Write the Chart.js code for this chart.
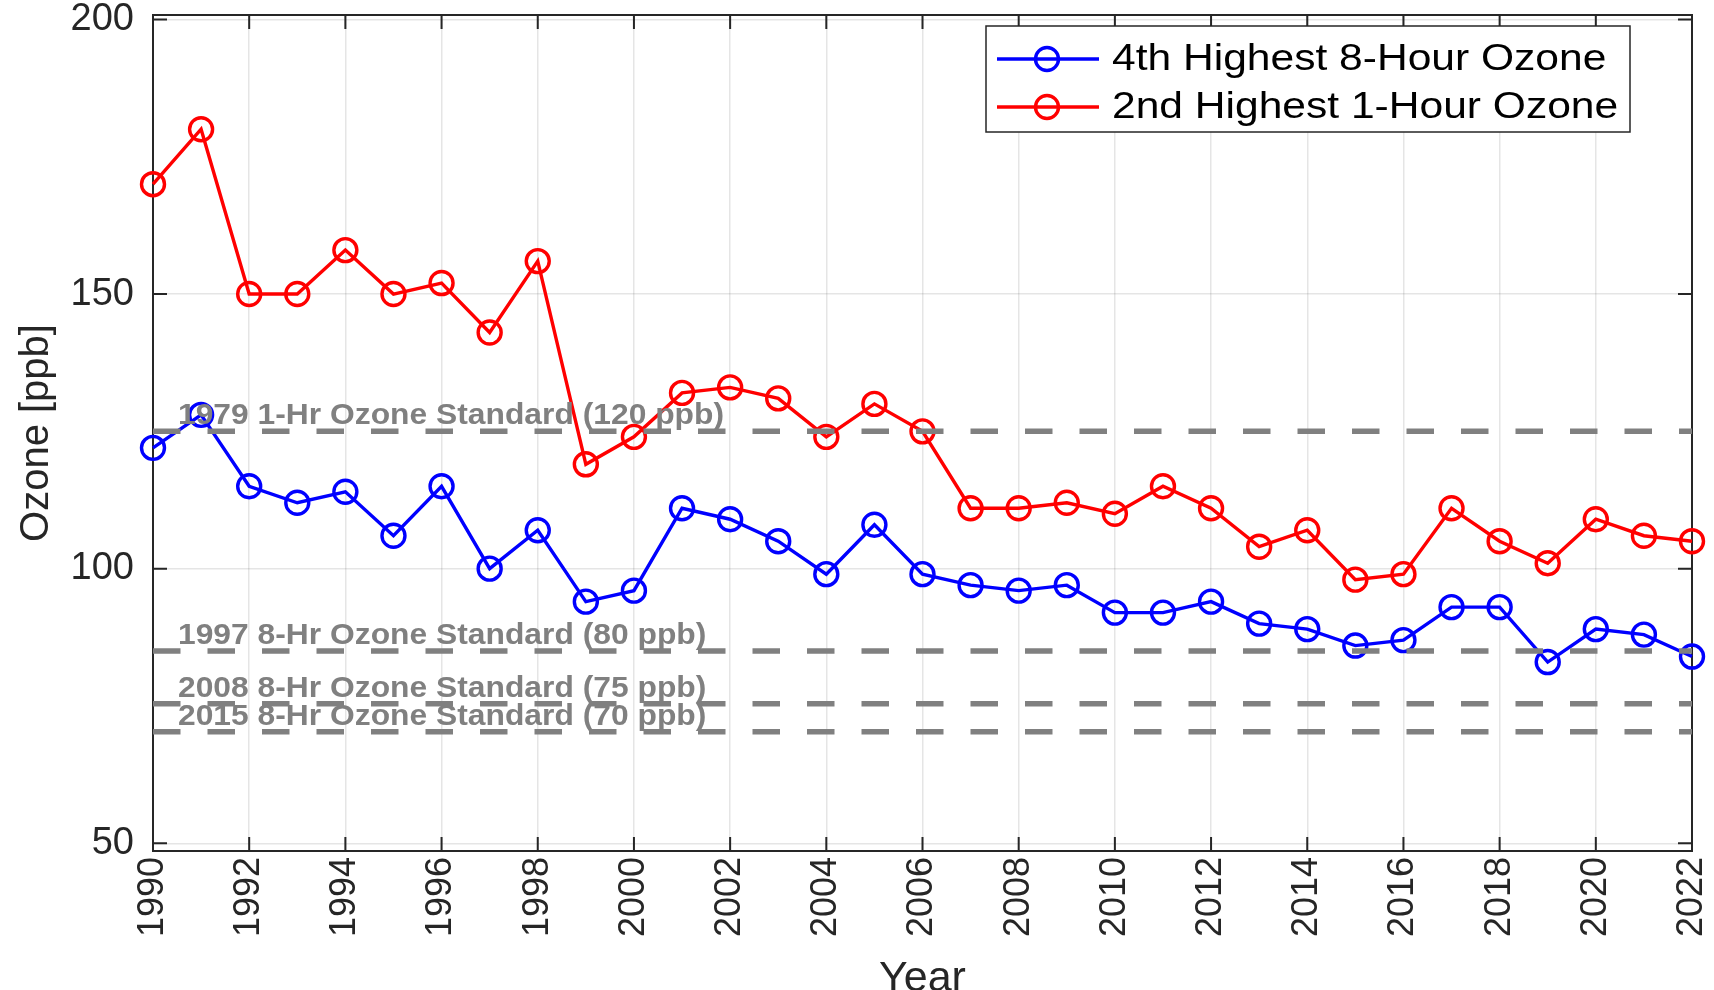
<!DOCTYPE html>
<html>
<head>
<meta charset="utf-8">
<title>Ozone design values</title>
<script src="https://cdn.jsdelivr.net/npm/chart.js@4.4.1/dist/chart.umd.min.js"></script>
<style>
  html, body { margin: 0; padding: 0; background: #fff; }
  #wrap { width: 1714px; height: 990px; position: relative; }
</style>
</head>
<body>
<div id="wrap"><canvas id="ozoneChart"></canvas></div>
<script>
const years = [1990, 1991, 1992, 1993, 1994, 1995, 1996, 1997, 1998, 1999, 2000,
  2001, 2002, 2003, 2004, 2005, 2006, 2007, 2008, 2009, 2010, 2011,
  2012, 2013, 2014, 2015, 2016, 2017, 2018, 2019, 2020, 2021, 2022];

const fourthHighest8Hr = [122, 128, 115, 112, 114, 106, 115, 100, 107, 94, 96,
  111, 109, 105, 99, 108, 99, 97, 96, 97, 92, 92,
  94, 90, 89, 86, 87, 93, 93, 83, 89, 88, 84];

const secondHighest1Hr = [170, 180, 150, 150, 158, 150, 152, 143, 156, 119, 124,
  132, 133, 131, 124, 130, 125, 111, 111, 112, 110, 115,
  111, 104, 107, 98, 99, 111, 105, 101, 109, 106, 105];

const seriesLabels = ["4th Highest 8-Hour Ozone", "2nd Highest 1-Hour Ozone"];
const seriesColors = ["#0000ff", "#ff0000"];

const standardLevels = [125, 85, 75.4, 70.3];
const standardLabels = [
  "1979 1-Hr Ozone Standard (120 ppb)",
  "1997 8-Hr Ozone Standard (80 ppb)",
  "2008 8-Hr Ozone Standard (75 ppb)",
  "2015 8-Hr Ozone Standard (70 ppb)"
];

const yTickValues = [50, 100, 150, 200];
const yRange = [48.6, 200.8];
const textColor = "#262626";
const tickLen = 14;

function toPoints(values) {
  return years.map((year, i) => ({ x: year, y: values[i] }));
}

const seriesDatasets = [fourthHighest8Hr, secondHighest1Hr].map((values, i) => ({
  label: seriesLabels[i],
  data: toPoints(values),
  borderColor: seriesColors[i],
  backgroundColor: "transparent",
  borderWidth: 3.4,
  pointRadius: 11.5,
  pointBorderWidth: 3.4,
  pointBackgroundColor: "transparent",
  pointBorderColor: seriesColors[i],
  tension: 0,
  clip: false,
  order: 1,
  isSeries: true
}));

const standardDatasets = standardLevels.map((level, i) => ({
  label: standardLabels[i],
  data: [{ x: years[0], y: level }, { x: years[years.length - 1], y: level }],
  borderColor: "#808080",
  borderWidth: 5.5,
  borderDash: [27.5, 27],
  pointRadius: 0,
  clip: false,
  order: 0
}));

// box with inward ticks, like the original figure
const axisBox = {
  id: "axisBox",
  beforeDatasetsDraw(chart) {
    const { ctx, chartArea: a, scales: { x, y } } = chart;
    ctx.save();
    ctx.strokeStyle = textColor;
    ctx.lineWidth = 2;
    ctx.strokeRect(a.left, a.top, a.right - a.left, a.bottom - a.top);
    ctx.beginPath();
    x.ticks.forEach((t) => {
      const px = x.getPixelForValue(t.value);
      ctx.moveTo(px, a.bottom);
      ctx.lineTo(px, a.bottom - tickLen);
      ctx.moveTo(px, a.top);
      ctx.lineTo(px, a.top + tickLen);
    });
    y.ticks.forEach((t) => {
      const py = y.getPixelForValue(t.value);
      ctx.moveTo(a.left, py);
      ctx.lineTo(a.left + tickLen, py);
      ctx.moveTo(a.right, py);
      ctx.lineTo(a.right - tickLen, py);
    });
    ctx.stroke();
    ctx.restore();
  }
};

const standardText = {
  id: "standardText",
  afterDatasetsDraw(chart) {
    const { ctx, chartArea: a, scales: { y } } = chart;
    ctx.save();
    ctx.fillStyle = "#808080";
    ctx.font = "bold 30px 'Liberation Sans', Arial, sans-serif";
    ctx.textBaseline = "alphabetic";
    ctx.textAlign = "left";
    standardLevels.forEach((level, i) => {
      const py = y.getPixelForValue(level);
      ctx.save();
      ctx.translate(a.left + 25, py - 7);
      ctx.scale(1.06, 1);
      ctx.fillText(standardLabels[i], 0, 0);
      ctx.restore();
    });
    ctx.restore();
  }
};

const boxLegend = {
  id: "boxLegend",
  afterDraw(chart) {
    const { ctx } = chart;
    const items = chart.data.datasets.filter((d) => d.isSeries);
    const box = { left: 986, top: 26, width: 644, height: 106 };
    const rowY = [59, 107];
    ctx.save();
    ctx.fillStyle = "#ffffff";
    ctx.fillRect(box.left, box.top, box.width, box.height);
    ctx.strokeStyle = textColor;
    ctx.lineWidth = 1.5;
    ctx.strokeRect(box.left, box.top, box.width, box.height);
    items.forEach((item, i) => {
      const cy = rowY[i];
      ctx.strokeStyle = item.borderColor;
      ctx.lineWidth = 3.4;
      ctx.beginPath();
      ctx.moveTo(997, cy);
      ctx.lineTo(1099, cy);
      ctx.stroke();
      ctx.beginPath();
      ctx.arc(1047, cy, 11.5, 0, Math.PI * 2);
      ctx.stroke();
      ctx.save();
      ctx.fillStyle = "#000000";
      ctx.font = "37px 'Liberation Sans', Arial, sans-serif";
      ctx.textBaseline = "middle";
      ctx.translate(1112, cy + 1);
      ctx.scale(1.15, 1);
      ctx.fillText(item.label, 0, 0);
      ctx.restore();
    });
    ctx.restore();
  }
};

const tickFont = { family: "'Liberation Sans', Arial, sans-serif", size: 37 };
const gridStyle = { color: "rgba(0, 0, 0, 0.1)", lineWidth: 1.5, drawTicks: false };

new Chart(document.getElementById("ozoneChart"), {
  type: "line",
  data: { datasets: [...standardDatasets, ...seriesDatasets] },
  options: {
    responsive: true,
    maintainAspectRatio: false,
    animation: false,
    layout: { padding: { top: 15, right: 22, bottom: 0, left: 0 } },
    plugins: {
      legend: { display: false },
      tooltip: { enabled: false }
    },
    scales: {
      x: {
        type: "linear",
        min: years[0],
        max: years[years.length - 1],
        grid: gridStyle,
        border: { display: false },
        ticks: {
          stepSize: 2,
          includeBounds: false,
          autoSkip: false,
          minRotation: 90,
          maxRotation: 90,
          padding: 6,
          color: textColor,
          font: { family: tickFont.family, size: 36 },
          callback: (v) => String(v)
        },
        title: {
          display: true,
          text: "Year",
          color: textColor,
          font: { family: tickFont.family, size: 43, lineHeight: 0.5 },
          padding: { top: 0, bottom: 0 }
        },
        afterFit(scale) {
          scale.height = 139;
          scale.paddingLeft = 0;
          scale.paddingRight = 0;
        }
      },
      y: {
        min: yRange[0],
        max: yRange[1],
        grid: gridStyle,
        border: { display: false },
        afterBuildTicks(scale) {
          scale.ticks = yTickValues.map((v) => ({ value: v }));
        },
        ticks: {
          padding: 19,
          color: textColor,
          font: { family: tickFont.family, size: 38 }
        },
        title: {
          display: true,
          text: "Ozone [ppb]",
          color: textColor,
          font: { family: tickFont.family, size: 40, lineHeight: 1.2 },
          padding: { top: 13, bottom: 0 }
        },
        afterFit(scale) {
          scale.width = 153;
          scale.paddingTop = 0;
          scale.paddingBottom = 0;
        }
      }
    }
  },
  plugins: [axisBox, standardText, boxLegend]
});
</script>
</body>
</html>
